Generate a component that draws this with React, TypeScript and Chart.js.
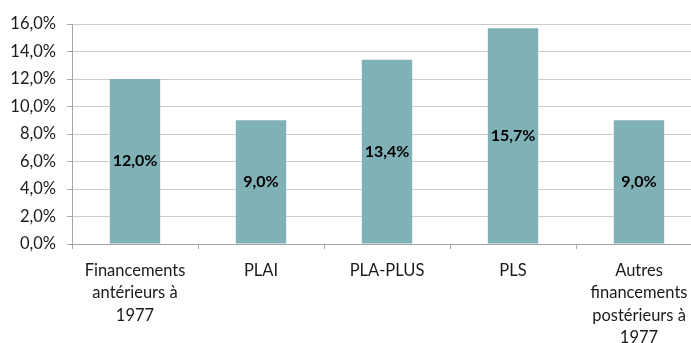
import React, { useEffect, useRef } from "react";
import { Chart, registerables } from "chart.js";

Chart.register(...registerables);

const categories: (string | string[])[] = [
  ["Financements", "antérieurs à", "1977"],
  "PLAI",
  "PLA-PLUS",
  "PLS",
  ["Autres", "financements", "postérieurs à", "1977"],
];
const shares = [12.0, 9.0, 13.4, 15.7, 9.0];
const yMin = 0;
const yMax = 16;
const yStep = 2;

const FONT = "Lato, 'Open Sans', sans-serif";
const fmt = (v: number) => v.toFixed(1).replace(".", ",") + "%";

const barLabels = {
  id: "barLabels",
  afterDatasetsDraw(chart: any) {
    const ctx = chart.ctx;
    const meta = chart.getDatasetMeta(0);
    ctx.save();
    ctx.font = `bold 16px ${FONT}`;
    ctx.fillStyle = "#000";
    ctx.textAlign = "center";
    ctx.textBaseline = "middle";
    meta.data.forEach((bar: any, i: number) => {
      const { x, y, base } = bar.getProps(["x", "y", "base"], true);
      ctx.fillText(fmt(shares[i]), x, (y + base) / 2);
    });
    ctx.restore();
  },
};

export default function App() {
  const ref = useRef<HTMLCanvasElement>(null);
  useEffect(() => {
    const chart = new Chart(ref.current!, {
      type: "bar",
      data: {
        labels: categories,
        datasets: [
          {
            data: shares,
            backgroundColor: "#80B1B6",
            barPercentage: 0.4,
            categoryPercentage: 1,
          },
        ],
      },
      options: {
        responsive: false,
        animation: false,
        layout: { padding: { top: 24, left: 0, right: 0, bottom: 0 } },
        plugins: { legend: { display: false }, tooltip: { enabled: false } },
        scales: {
          x: {
            grid: {
              drawOnChartArea: false,
              tickLength: 5,
              tickColor: "#a6a6a6",
            },
            border: { color: "#a6a6a6" },
            ticks: {
              color: "#1a1a1a",
              font: { family: FONT, size: 16.5, lineHeight: 22.5 / 16.5 },
              padding: 10,
              maxRotation: 0,
              autoSkip: false,
            },
            afterFit(scale: any) {
              scale.height = 99;
            },
          },
          y: {
            min: yMin,
            max: yMax,
            grid: { color: "#cccccc", tickLength: 5, tickColor: "#a6a6a6" },
            border: { color: "#a6a6a6" },
            ticks: {
              stepSize: yStep,
              color: "#1a1a1a",
              font: { family: FONT, size: 16.5 },
              padding: 11,
              callback: (v: any) => fmt(Number(v)),
            },
            afterFit(scale: any) {
              scale.width = 72;
            },
          },
        },
      },
      plugins: [barLabels],
    });
    return () => chart.destroy();
  }, []);
  return (
    <div
      style={{
        position: "absolute",
        left: 0,
        top: 0,
        width: 691,
        height: 343,
        overflow: "hidden",
        background: "#fff",
      }}
    >
      <canvas ref={ref} width={702} height={343} />
    </div>
  );
}
